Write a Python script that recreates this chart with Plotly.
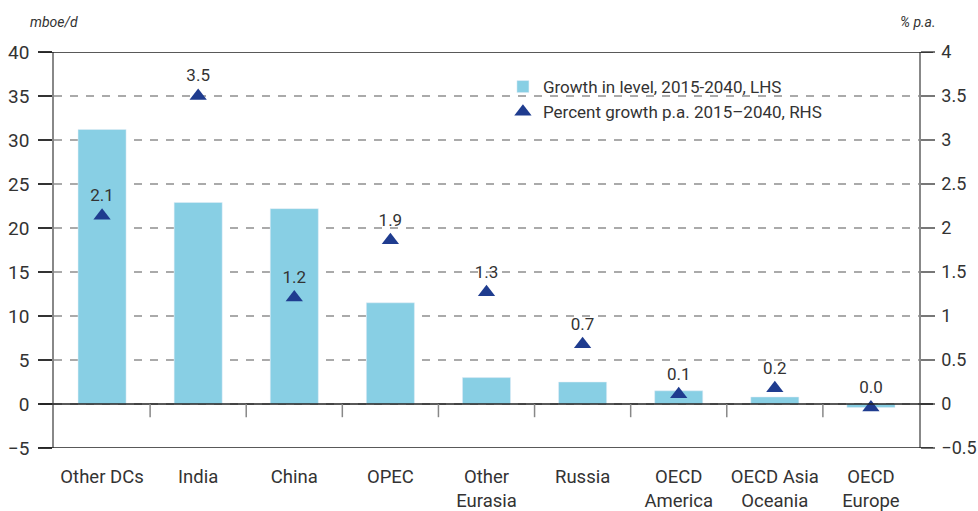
import plotly.graph_objects as go

categories = ["Other DCs", "India", "China", "OPEC", "Other<br>Eurasia", "Russia",
              "OECD<br>America", "OECD Asia<br>Oceania", "OECD<br>Europe"]
growth_level = [31.2, 22.9, 22.2, 11.5, 3.0, 2.5, 1.5, 0.8, -0.4]
pct_growth = [2.14, 3.50, 1.21, 1.86, 1.27, 0.68, 0.11, 0.18, -0.04]
pct_labels = ["2.1", "3.5", "1.2", "1.9", "1.3", "0.7", "0.1", "0.2", "0.0"]

FONT = "Roboto"
TXT = "#333333"
BAR = "#88CFE4"
TRI = "#1F3C8F"

fig = go.Figure()
fig.add_bar(x=categories, y=growth_level, width=0.5, marker_color=BAR,
            name="Growth in level, 2015-2040, LHS", yaxis="y")
fig.add_scatter(x=categories, y=pct_growth, mode="markers+text", text=pct_labels,
                textposition="top center", textfont=dict(size=17, color=TXT, family=FONT),
                marker=dict(symbol="triangle-up", size=15, color=TRI),
                name="Percent growth p.a. 2015\u20132040, RHS", yaxis="y2", cliponaxis=False)

shapes = []
for yv in [40, 0, -5]:
    shapes.append(dict(type="line", xref="paper", yref="y", x0=-0.0162, x1=1.0162,
                       y0=yv, y1=yv, line=dict(color="#222222", width=1.5)))
for i in range(1, len(categories)):
    shapes.append(dict(type="line", xref="x", yref="y", x0=i - 0.5, x1=i - 0.5,
                       y0=0, y1=-1.5, line=dict(color="#888888", width=1.5)))

fig.update_layout(
    width=978, height=511,
    margin=dict(l=54, r=59, t=52, b=63, autoexpand=False),
    paper_bgcolor="white", plot_bgcolor="white",
    font=dict(family=FONT, size=19, color=TXT),
    showlegend=True,
    legend=dict(x=0.519, y=0.957, xanchor="left", yanchor="top",
                font=dict(size=17, color=TXT), bgcolor="rgba(0,0,0,0)",
                tracegroupgap=0, itemwidth=30),
    xaxis=dict(type="category", range=[-0.5, len(categories) - 0.5], showgrid=False,
               showline=False, zeroline=False, ticks="", ticklabelstandoff=15,
               tickfont=dict(size=18.5, color=TXT)),
    yaxis=dict(range=[-5, 40], dtick=5, tick0=0, showgrid=True, gridcolor="#AAAAAA",
               gridwidth=1.5, griddash="8px,8px", zeroline=False, showline=True,
               linecolor="#888888", linewidth=1.5, ticks="outside", ticklen=14,
               tickwidth=1.5, tickcolor="#333333", ticklabelstandoff=5,
               tickfont=dict(size=19, color=TXT)),
    yaxis2=dict(range=[-0.5, 4], dtick=0.5, tick0=0, overlaying="y", side="right",
                showgrid=False, zeroline=False, showline=True, linecolor="#888888",
                linewidth=1.5, ticks="outside", ticklen=14, tickwidth=1.5,
                tickcolor="#777777", ticklabelstandoff=3,
                tickfont=dict(size=18, color=TXT)),
    shapes=shapes,
    annotations=[
        dict(text="<i>mboe/d</i>", xref="paper", yref="paper", x=-0.030, y=1.0758,
             xanchor="left", yanchor="middle", showarrow=False,
             font=dict(size=14, color=TXT)),
        dict(text="<i>% p.a.</i>", xref="paper", yref="paper", x=1.022, y=1.0758,
             xanchor="right", yanchor="middle", showarrow=False,
             font=dict(size=14, color=TXT)),
    ],
)

fig.write_html(
    "out.html",
    config={"displayModeBar": False},
    post_script="document.body.style.margin='0';document.body.style.overflow='hidden';",
)
